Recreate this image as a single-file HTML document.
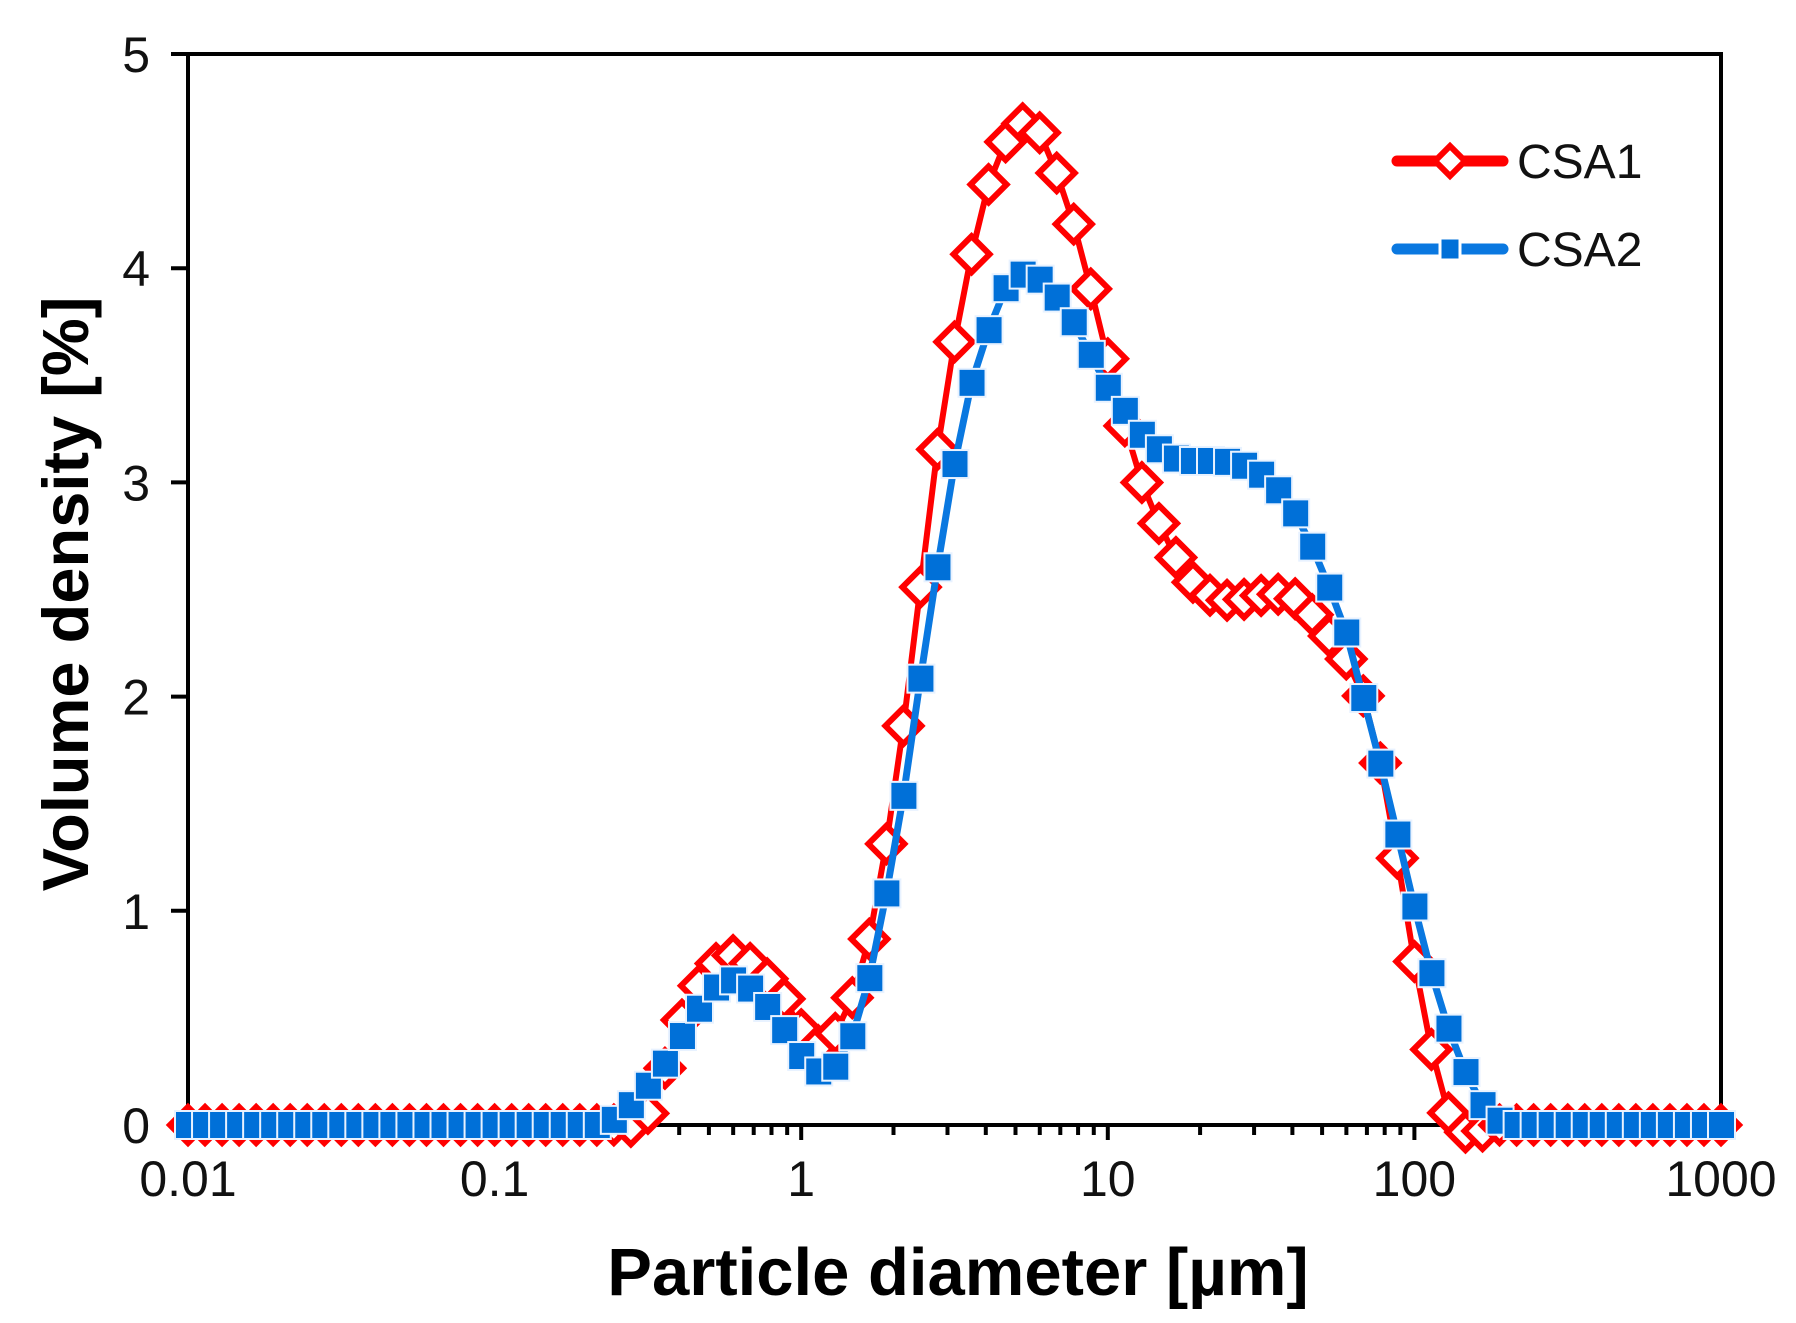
<!DOCTYPE html>
<html><head><meta charset="utf-8"><style>
html,body{margin:0;padding:0;background:#fff;}
svg{display:block;}
text{font-family:"Liberation Sans",Arial,sans-serif;}
</style></head><body>
<svg id="s" width="1796" height="1323" viewBox="0 0 1796 1323" xmlns="http://www.w3.org/2000/svg">
<rect width="1796" height="1323" fill="#fff"/>
<g id="axes" stroke="#000" stroke-width="4" fill="none">
<rect x="188" y="54" width="1533" height="1071"/>
</g>
<g id="ticks" stroke="#000" stroke-width="4"></g>
<g id="labels" font-size="50" fill="#111"></g>
<g id="series"></g>
<text x="958" y="1295" font-size="67" font-weight="bold" text-anchor="middle" fill="#000">Particle diameter [µm]</text>
<text transform="translate(88,594) rotate(-90)" font-size="65" font-weight="bold" text-anchor="middle" fill="#000">Volume density [%]</text>
<g id="legend">
<line x1="1397" y1="161" x2="1503" y2="161" stroke="#ff0000" stroke-width="11" stroke-linecap="round"/>
<polygon points="1450,146 1465,161 1450,176 1435,161" fill="#fff" stroke="#ff0000" stroke-width="6"/>
<text x="1517" y="178" font-size="48" fill="#111">CSA1</text>
<line x1="1397" y1="249" x2="1503" y2="249" stroke="#0a78e0" stroke-width="11" stroke-linecap="round"/>
<rect x="1440" y="238" width="20" height="22" fill="#0070d8" stroke="#fff" stroke-width="3"/>
<text x="1517" y="266" font-size="48" fill="#111">CSA2</text>
</g>
</svg>
<script>
const NS="http://www.w3.org/2000/svg";
const X0=188,X1=1721,Y0=1125,YU=214.2,DEC=(X1-X0)/5;
const px=l=>X0+(l+2)*DEC, py=v=>Y0-v*YU;
function el(t,a,p){const e=document.createElementNS(NS,t);for(const k in a)e.setAttribute(k,a[k]);p.appendChild(e);return e;}
const tk=document.getElementById('ticks'),lb=document.getElementById('labels');
for(let i=0;i<=5;i++){el('line',{x1:171,x2:188,y1:py(i),y2:py(i)},tk);
 const t=el('text',{x:150,y:py(i)+18,'text-anchor':'end'},lb);t.textContent=i;}
const xl=['0.01','0.1','1','10','100','1000'];
for(let d=0;d<=5;d++){const x=px(d-2);el('line',{x1:x,x2:x,y1:1125,y2:1140},tk);
 const t=el('text',{x:x,y:1196,'text-anchor':'middle'},lb);t.textContent=xl[d];
 if(d<5)for(let m=2;m<=9;m++){const xm=px(d-2+Math.log10(m));el('line',{x1:xm,x2:xm,y1:1125,y2:1135},tk);}}
const tl=xt=>-2+(xt-165)/268;
const A=[[150,0],[550,0],[560,-0.03],[575,0.15],[590,0.4],[605,0.6],[625,0.75],[645,0.8],[665,0.72],[685,0.6],[700,0.45],[718,0.36],[735,0.45],[755,0.72],[770,1.12],[785,1.65],[800,2.25],[812,2.85],[828,3.45],[845,3.95],[862,4.35],[877,4.57],[892,4.68],[908,4.65],[922,4.48],[937,4.25],[952,3.95],[967,3.62],[982,3.3],[995,3.05],[1010,2.85],[1025,2.68],[1040,2.55],[1055,2.48],[1070,2.45],[1085,2.45],[1100,2.47],[1115,2.48],[1130,2.47],[1145,2.4],[1160,2.3],[1175,2.2],[1190,2.05],[1205,1.75],[1218,1.4],[1230,0.95],[1245,0.55],[1260,0.12],[1275,-0.02],[1290,-0.05],[1305,0],[1510,0]];
const B=[[150,0],[530,0],[545,0.05],[565,0.17],[580,0.27],[595,0.4],[610,0.53],[623,0.63],[638,0.68],[652,0.66],[667,0.58],[683,0.47],[698,0.34],[713,0.25],[728,0.25],[743,0.37],[758,0.62],[772,0.98],[788,1.45],[802,1.97],[817,2.5],[832,3.0],[846,3.4],[864,3.7],[877,3.88],[886,3.97],[905,3.97],[922,3.88],[937,3.77],[952,3.62],[965,3.47],[982,3.35],[995,3.24],[1010,3.17],[1022,3.12],[1037,3.1],[1052,3.1],[1067,3.1],[1082,3.09],[1097,3.06],[1112,3.0],[1128,2.9],[1143,2.76],[1157,2.58],[1175,2.35],[1188,2.08],[1203,1.78],[1218,1.45],[1232,1.13],[1247,0.8],[1262,0.52],[1277,0.3],[1292,0.13],[1303,0.04],[1320,0],[1510,0]];
function interp(D,l){const P=D.map(p=>[tl(p[0]),p[1]]);for(let i=0;i<P.length-1;i++){if(l>=P[i][0]&&l<=P[i+1][0]){const f=(l-P[i][0])/(P[i+1][0]-P[i][0]||1);return P[i][1]+f*(P[i+1][1]-P[i][1]);}}return 0;}
const grid=[];for(let i=0;i<=90;i++)grid.push(-2+i/18);
const g=document.getElementById('series');
function draw(D,color,lw,marker){
 const pts=grid.map(l=>[px(l),py(interp(D,l))]);
 el('polyline',{points:pts.map(p=>p.join(',')).join(' '),fill:'none',stroke:color,'stroke-width':lw,'stroke-linejoin':'round'},g);
 pts.forEach(p=>marker(p[0],p[1]));}
draw(A,'#ff0000',6,(x,y)=>el('polygon',{points:`${x},${y-18} ${x+18},${y} ${x},${y+18} ${x-18},${y}`,fill:'#fff',stroke:'#ff0000','stroke-width':6},g));
draw(B,'#0a78e0',7,(x,y)=>el('rect',{x:x-13,y:y-14,width:27,height:28,fill:'#0070d8',stroke:'#e8f2ff','stroke-width':2},g));
</script>
</body></html>
